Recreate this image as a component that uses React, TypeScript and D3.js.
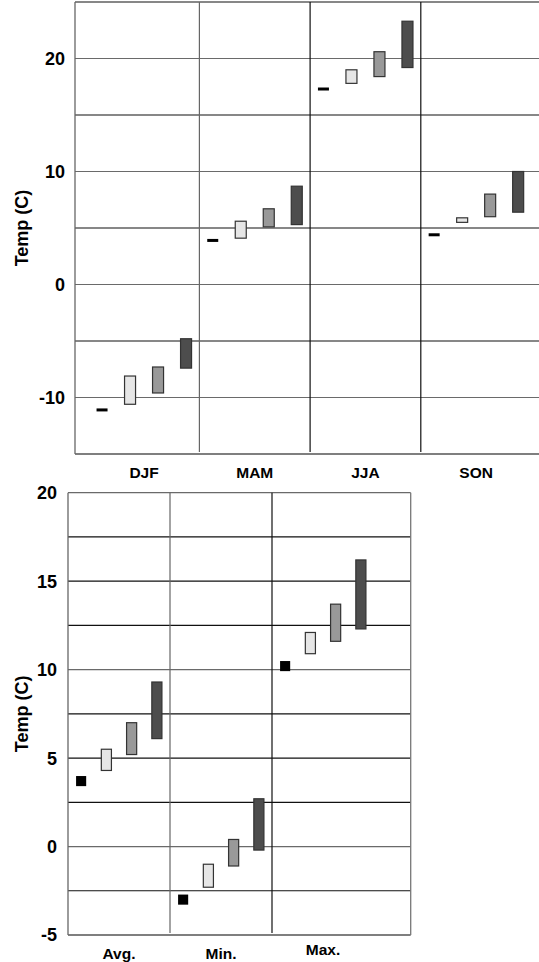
import * as d3 from 'd3';

// seasonal panel
const seasons = ['DJF', 'MAM', 'JJA', 'SON'];
const seasonObs = [-11.1, 3.9, 17.3, 4.4];
const seasonLightLow = [-10.6, 4.1, 17.8, 5.5];
const seasonLightHigh = [-8.1, 5.6, 19.0, 5.9];
const seasonMedLow = [-9.6, 5.1, 18.4, 6.0];
const seasonMedHigh = [-7.3, 6.7, 20.6, 8.0];
const seasonDarkLow = [-7.4, 5.3, 19.2, 6.4];
const seasonDarkHigh = [-4.8, 8.7, 23.3, 10.0];
const seasonTicks = [-10, 0, 10, 20];

// annual stats panel
const stats = ['Avg.', 'Min.', 'Max.'];
const statObs = [3.7, -3.0, 10.2];
const statLightLow = [4.3, -2.3, 10.9];
const statLightHigh = [5.5, -1.0, 12.1];
const statMedLow = [5.2, -1.1, 11.6];
const statMedHigh = [7.0, 0.4, 13.7];
const statDarkLow = [6.1, -0.2, 12.3];
const statDarkHigh = [9.3, 2.7, 16.2];
const statTicks = [-5, 0, 5, 10, 15, 20];

const items = ['obs', 'light', 'med', 'dark'];
const FONT = 'Arial, "Liberation Sans", Helvetica, sans-serif';
const fills: Record<string, string> = { light: '#e6e6e6', med: '#999999', dark: '#4d4d4d' };

function Panel({ cats, obs, ranges, yDomain, yRange, bandRange, left, right, ticks, gridStep,
  obsSquare, pi, po, labelY, labelDy, tickX, titleFont, tickFont, catFont }: any) {
  const y = d3.scaleLinear().domain(yDomain).range(yRange);
  const x = d3.scaleBand().domain(cats).range(bandRange);
  const inner = d3.scaleBand().domain(items).range([0, x.bandwidth()]).paddingInner(pi).paddingOuter(po);
  const grid = d3.range(yDomain[0] + gridStep, yDomain[1] + gridStep / 2, gridStep);
  const top = yRange[1], bottom = yRange[0];
  const w = inner.bandwidth();

  return (
    <g>
      {grid.map((v: number, i: number) => (
        <line key={'g' + i} x1={left} x2={right} y1={y(v)} y2={y(v)}
          stroke={Math.round(v) % 10 === 0 ? '#6a6a6a' : '#111'} strokeWidth={1.2} />
      ))}
      <line x1={left} x2={right} y1={bottom} y2={bottom} stroke="#555" strokeWidth={1.3} />
      <line x1={left} x2={left} y1={top} y2={bottom} stroke="#666" strokeWidth={1.3} />
      <line x1={right} x2={right} y1={top} y2={bottom} stroke="#777" strokeWidth={1.3} />
      {cats.slice(1).map((c: string, i: number) => (
        <line key={'d' + c} x1={x(c)} x2={x(c)} y1={top} y2={bottom - 2}
          stroke={i === 0 ? '#666' : '#111'} strokeWidth={1.2} />
      ))}

      {cats.map((c: string, i: number) => {
        const x0 = x(c) as number;
        return (
          <g key={c}>
            {obsSquare
              ? <rect x={x0 + (inner('obs') as number)} y={y(obs[i]) - w / 2} width={w} height={w} fill="#000" />
              : <rect x={x0 + (inner('obs') as number)} y={y(obs[i]) - 1.5} width={w} height={3} fill="#000" />}
            {ranges.map((r: any) => (
              <rect key={r.key} x={x0 + (inner(r.key) as number)} y={y(r.high[i])} width={w}
                height={y(r.low[i]) - y(r.high[i])} fill={fills[r.key]} stroke="#333" strokeWidth={1.2} />
            ))}
            <text x={x0 + x.bandwidth() / 2} y={labelY + (labelDy ? labelDy[i] : 0)} textAnchor="middle"
              fontFamily={FONT} fontWeight="bold" fontSize={catFont}>{c}</text>
          </g>
        );
      })}

      {ticks.map((t: number) => (
        <text key={'t' + t} x={tickX} y={y(t)} dy="0.36em" textAnchor="end"
          fontFamily={FONT} fontWeight="bold" fontSize={tickFont}>{t}</text>
      ))}
      <text transform={`translate(22,${(top + bottom) / 2}) rotate(-90)`} dy="0.35em" textAnchor="middle"
        fontFamily={FONT} fontWeight="bold" fontSize={titleFont}>Temp (C)</text>
    </g>
  );
}

export default function App() {
  const seasonRanges = [
    { key: 'light', low: seasonLightLow, high: seasonLightHigh },
    { key: 'med', low: seasonMedLow, high: seasonMedHigh },
    { key: 'dark', low: seasonDarkLow, high: seasonDarkHigh },
  ];
  const statRanges = [
    { key: 'light', low: statLightLow, high: statLightHigh },
    { key: 'med', low: statMedLow, high: statMedHigh },
    { key: 'dark', low: statDarkLow, high: statDarkHigh },
  ];
  return (
    <div style={{ position: 'absolute', left: 0, top: 0 }}>
      <svg width={539} height={962} style={{ display: 'block', background: '#fff' }}>
        <Panel cats={seasons} obs={seasonObs} ranges={seasonRanges}
          yDomain={[-15, 25]} yRange={[454, 2]} bandRange={[88.7, 531.5]}
          left={75} right={545} ticks={seasonTicks} gridStep={5} obsSquare={false}
          pi={17 / 28} po={0.28} labelY={478} tickX={65}
          titleFont={18} tickFont={18} catFont={15.5} />
        <Panel cats={stats} obs={statObs} ranges={statRanges}
          yDomain={[-5, 20]} yRange={[935, 492.7]} bandRange={[68, 374]}
          left={68} right={410.7} ticks={statTicks} gridStep={2.5} obsSquare={true}
          pi={0.6} po={0.32} labelY={959} labelDy={[0, 0, -4]} tickX={57}
          titleFont={18} tickFont={18} catFont={15.5} />
      </svg>
    </div>
  );
}
